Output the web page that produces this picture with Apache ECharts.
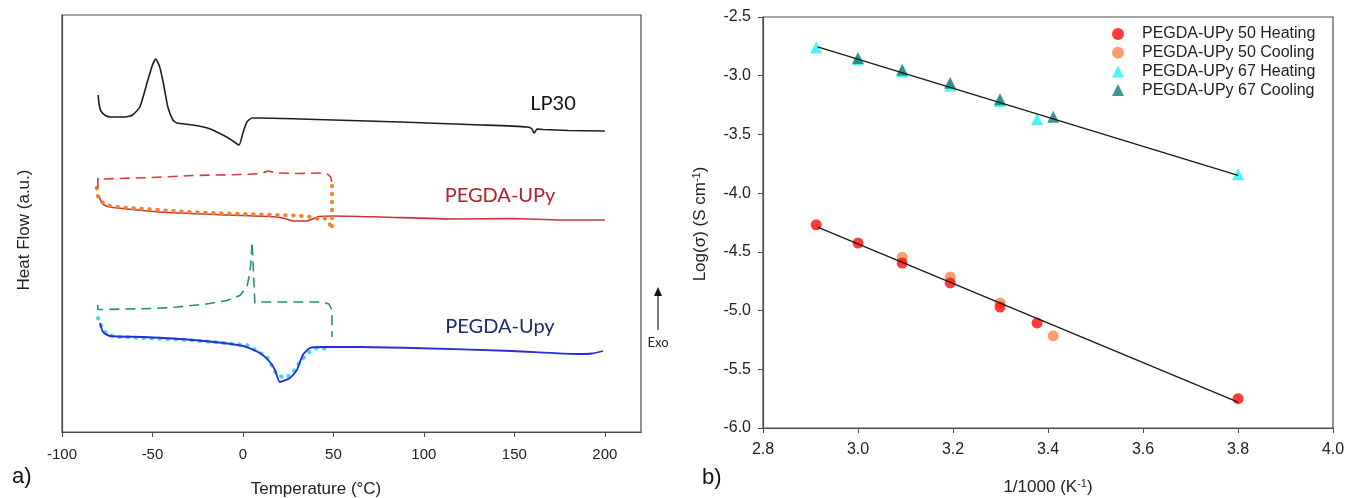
<!DOCTYPE html>
<html>
<head>
<meta charset="utf-8">
<script src="https://cdn.jsdelivr.net/npm/echarts@6/dist/echarts.min.js"></script>
<style>
  html, body { margin: 0; padding: 0; background: #ffffff; }
  #chart { width: 1348px; height: 498px; }
</style>
</head>
<body>
<div id="chart"></div>
<script>
// ---------- a) DSC thermograms: [temperature (°C), heat flow (a.u.)] ----------
const tempTicks = [-100, -50, 0, 50, 100, 150, 200];

const lp30 = [[-80,33.7],[-79.5,32.8],[-78.5,32.1],[-76,31.65],[-73,31.5],[-65,31.5],[-61,31.7],
  [-57,32.5],[-53,34.9],[-50,36.7],[-48.2,37.3],[-46,36.5],[-44,34.9],[-41.5,32.5],[-38.7,31.2],
  [-36.5,30.9],[-27.6,30.7],[-18,30.3],[-9,29.5],[-5.5,29.1],[-2.2,28.7],[0,29.9],[2.2,31.0],
  [5,31.4],[10,31.4],[31.5,31.3],[87,31.0],[132,30.7],[157,30.5],[159.5,30.35],[161,29.9],
  [162.5,30.3],[166,30.25],[180,30.15],[200,30.1]];

const upyCooling = [[-80.2,24.4],[-80.2,25.4],[-78,25.3],[-50,25.45],[-27.6,25.65],[0,25.75],
  [10,25.85],[13.8,26.1],[18.8,25.9],[30,25.85],[44.2,25.9],[47,25.75],[48.5,25.5],[49.2,24.9]];

const upyFirstHeating = [[-80.8,24.4],[-80.2,23.6],[-78,23.0],[-75,22.65],[-70,22.5],[-50,22.25],
  [-30,22.0],[-10,21.85],[10,21.75],[30,21.65],[38,21.5],[42,21.3],[45,21.4],[47.5,20.95],
  [49.2,20.3],[49.2,24.8]];

const upyHeating = [[-79.5,23.6],[-78,22.9],[-75.5,22.6],[-72,22.45],[-46,22.0],[-9,21.7],
  [18.8,21.5],[24,21.3],[28,21.1],[35,21.1],[39,21.35],[42,21.55],[50,21.6],[75.7,21.5],
  [118,21.3],[149,21.35],[175,21.2],[200,21.2]];

const upy67Cooling = [[-80.2,12.7],[-80.2,12.25],[-78,12.25],[-50,12.35],[-36.5,12.5],[-20,12.8],
  [-8.8,13.15],[-1.7,13.65],[2.2,14.5],[3.9,16.0],[4.7,17.7],[5.0,19.0],[5.6,17.0],[6.1,14.8],
  [6.6,12.9],[9.4,13.0],[44.2,13.0],[47.5,12.8],[49.2,12.2],[49.2,9.5]];

const upy67FirstHeating = [[-80.1,11.4],[-77.9,10.4],[-75,9.7],[-68,9.5],[-30,9.2],[2.2,8.7],
  [13.3,7.5],[18.8,5.7],[23.2,5.4],[27,5.8],[31.5,7.0],[35.9,7.9],[40.9,8.4],[48.1,8.3]];

const upy67Heating = [[-79,10.9],[-77.3,10.0],[-73.5,9.6],[-55,9.5],[-27.6,9.2],[0,8.6],[9.4,7.9],
  [14.9,7.0],[17.7,6.2],[20.4,5.0],[26,5.4],[29.8,6.2],[33.1,7.7],[37,8.4],[44.2,8.5],[64.6,8.5],
  [94,8.4],[149,8.1],[186,7.8],[193,7.85],[199,8.1]];

// ---------- b) Arrhenius plot: x = 1/1000 (K^-1), y = log(sigma) ----------
const x50Heat = [2.912, 3.000, 3.093, 3.194, 3.299, 3.377, 3.800];
const y50Heat = [-4.27, -4.425, -4.595, -4.765, -4.97, -5.105, -5.75];
const x50Cool = [3.093, 3.194, 3.299, 3.411];
const y50Cool = [-4.545, -4.715, -4.935, -5.215];
const x67Heat = [2.912, 3.000, 3.093, 3.194, 3.299, 3.377, 3.800];
const y67Heat = [-2.76, -2.865, -2.965, -3.085, -3.215, -3.37, -3.84];
const x67Cool = [3.000, 3.093, 3.194, 3.299, 3.411];
const y67Cool = [-2.85, -2.95, -3.06, -3.20, -3.35];
const fitX = [2.915, 3.800];
const fit50 = [-4.29, -5.78];
const fit67 = [-2.755, -3.848];

const seriesNames = ['PEGDA-UPy 50 Heating', 'PEGDA-UPy 50 Cooling', 'PEGDA-UPy 67 Heating', 'PEGDA-UPy 67 Cooling'];

const zip = (xs, ys) => xs.map((x, i) => [x, ys[i]]);

const ARIAL = '"Liberation Sans", Arial, sans-serif';
const LABEL_FONT = 'Lato, "Open Sans", sans-serif';
const AXIS_COLOR = '#4a4a4a';

function dscLine(name, data, color, opts) {
  return Object.assign({
    name: name, type: 'line', xAxisIndex: 0, yAxisIndex: 0, data: data,
    symbol: 'none', showSymbol: false, silent: true,
    lineStyle: { color: color, width: 1.6 }
  }, opts || {});
}

function dots(color) {
  return { color: color, width: 4, type: [0.5, 7.5], cap: 'round' };
}

const chart = echarts.init(document.getElementById('chart'), null, { renderer: 'canvas' });

chart.setOption({
  animation: false,
  backgroundColor: '#ffffff',
  grid: [
    { left: 62, right: 707, top: 15, bottom: 66, show: true, borderColor: AXIS_COLOR, borderWidth: 1.2 },
    { left: 763, right: 15, top: 17, bottom: 70, show: true, borderColor: AXIS_COLOR, borderWidth: 1.2 }
  ],
  xAxis: [
    {
      gridIndex: 0, type: 'value', min: -100, max: 220, interval: 50,
      axisLine: { onZero: false, lineStyle: { color: AXIS_COLOR, width: 1.2 } },
      axisTick: { show: true, length: 5, customValues: tempTicks, lineStyle: { color: AXIS_COLOR } },
      axisLabel: { customValues: tempTicks, margin: 15, fontSize: 15, color: '#222', fontFamily: ARIAL },
      splitLine: { show: false }
    },
    {
      gridIndex: 1, type: 'value', min: 2.8, max: 4.0, interval: 0.2,
      axisLine: { onZero: false, lineStyle: { color: AXIS_COLOR, width: 1.2 } },
      axisTick: { show: true, length: 5, lineStyle: { color: AXIS_COLOR } },
      axisLabel: { margin: 14, fontSize: 16, color: '#222', fontFamily: ARIAL,
        formatter: v => v.toFixed(1) },
      splitLine: { show: false }
    }
  ],
  yAxis: [
    {
      gridIndex: 0, type: 'value', min: 0, max: 41.7,
      axisLine: { show: true, onZero: false, lineStyle: { color: AXIS_COLOR, width: 1.2 } },
      axisTick: { show: false }, axisLabel: { show: false }, splitLine: { show: false }
    },
    {
      gridIndex: 1, type: 'value', min: -6, max: -2.5, interval: 0.5,
      axisLine: { show: true, onZero: false, lineStyle: { color: AXIS_COLOR, width: 1.2 } },
      axisTick: { show: true, length: 5, lineStyle: { color: AXIS_COLOR } },
      axisLabel: { margin: 12, fontSize: 16, color: '#222', fontFamily: ARIAL,
        formatter: v => v.toFixed(1) },
      splitLine: { show: false }
    }
  ],
  legend: {
    data: seriesNames.map((n, i) => ({ name: n, icon: i < 2 ? 'circle' : 'triangle' })),
    orient: 'vertical', left: 1107, top: 21,
    itemWidth: 12, itemHeight: 12, itemGap: 2.7,
    textStyle: { fontSize: 16, lineHeight: 16, color: '#222', fontFamily: ARIAL, padding: [0, 0, 0, 13] }
  },
  series: [
    dscLine('LP30', lp30, '#1e1e1e', { smooth: 0.2 }),
    dscLine('PEGDA-UPy heating', upyHeating, '#c8343a', { smooth: 0.2 }),
    dscLine('PEGDA-UPy first heating', upyFirstHeating, '#f0842a', { lineStyle: dots('#f0842a') }),
    dscLine('PEGDA-UPy cooling', upyCooling, '#e2353c', { lineStyle: { color: '#e2353c', width: 1.6, type: [10, 6] } }),
    dscLine('PEGDA-Upy first heating', upy67FirstHeating, '#3cdcf0', { lineStyle: dots('#3cdcf0') }),
    dscLine('PEGDA-Upy heating', upy67Heating, '#2b2bd4', { smooth: 0.2, lineStyle: { color: '#2b2bd4', width: 1.8 } }),
    dscLine('PEGDA-Upy cooling', upy67Cooling, '#2b8a84', { lineStyle: { color: '#2b8a84', width: 1.6, type: [10, 6] } }),

    { name: seriesNames[0], type: 'scatter', xAxisIndex: 1, yAxisIndex: 1, data: zip(x50Heat, y50Heat),
      symbol: 'circle', symbolSize: 11, z: 4, itemStyle: { color: '#ff0a0a' } },
    { name: seriesNames[1], type: 'scatter', xAxisIndex: 1, yAxisIndex: 1, data: zip(x50Cool, y50Cool),
      symbol: 'circle', symbolSize: 11, z: 3, itemStyle: { color: '#f5874c' } },
    { name: seriesNames[2], type: 'scatter', xAxisIndex: 1, yAxisIndex: 1, data: zip(x67Heat, y67Heat),
      symbol: 'triangle', symbolSize: 12, z: 3, itemStyle: { color: '#1ef2f2' } },
    { name: seriesNames[3], type: 'scatter', xAxisIndex: 1, yAxisIndex: 1, data: zip(x67Cool, y67Cool),
      symbol: 'triangle', symbolSize: 12, z: 4, itemStyle: { color: '#137a76' } },
    { name: 'fit 50', type: 'line', xAxisIndex: 1, yAxisIndex: 1, data: zip(fitX, fit50), z: 5,
      symbol: 'none', silent: true, lineStyle: { color: '#1a1a1a', width: 1.3 } },
    { name: 'fit 67', type: 'line', xAxisIndex: 1, yAxisIndex: 1, data: zip(fitX, fit67), z: 5,
      symbol: 'none', silent: true, lineStyle: { color: '#1a1a1a', width: 1.3 } }
  ],
  graphic: [
    // panel letters
    { type: 'text', left: 12, top: 466, style: { text: 'a)', font: '22px ' + ARIAL, fill: '#111' } },
    { type: 'text', left: 702, top: 467, style: { text: 'b)', font: '22px ' + ARIAL, fill: '#111' } },
    // axis titles
    { type: 'text', x: 316, y: 489, style: { text: 'Temperature (°C)', font: '17px ' + ARIAL, fill: '#222', align: 'center', verticalAlign: 'middle' } },
    { type: 'text', x: 24, y: 230, rotation: Math.PI / 2,
      style: { text: 'Heat Flow (a.u.)', font: '17px ' + ARIAL, fill: '#222', align: 'center', verticalAlign: 'middle' } },
    { type: 'text', x: 1048, y: 487,
      style: { text: '{a|1/1000 (K}{s|-1}{a|)}', align: 'center', verticalAlign: 'middle',
        rich: { a: { fontSize: 17, fontFamily: ARIAL, fill: '#222', lineHeight: 18 },
                s: { fontSize: 11, fontFamily: ARIAL, fill: '#222', verticalAlign: 'top', lineHeight: 18 } } } },
    { type: 'text', x: 700, y: 224, rotation: Math.PI / 2,
      style: { text: '{a|Log(σ) (S cm}{s|-1}{a|)}', align: 'center', verticalAlign: 'middle',
        rich: { a: { fontSize: 17, fontFamily: ARIAL, fill: '#222', lineHeight: 18 },
                s: { fontSize: 11, fontFamily: ARIAL, fill: '#222', verticalAlign: 'top', lineHeight: 18 } } } },
    // curve labels
    { type: 'text', x: 553, y: 104, style: { text: 'LP30', font: '20px ' + LABEL_FONT, fill: '#111', align: 'center', verticalAlign: 'middle' } },
    { type: 'text', x: 500, y: 196, style: { text: 'PEGDA-UPy', font: '20px ' + LABEL_FONT, fill: '#b3222a', align: 'center', verticalAlign: 'middle' } },
    { type: 'text', x: 500, y: 327, style: { text: 'PEGDA-Upy', font: '20px ' + LABEL_FONT, fill: '#1d2b6a', align: 'center', verticalAlign: 'middle' } },
    // exotherm direction
    { type: 'line', shape: { x1: 658, y1: 330, x2: 658, y2: 294 }, style: { stroke: '#222', lineWidth: 1.2 } },
    { type: 'polygon', shape: { points: [[654, 296], [662, 296], [658, 287]] }, style: { fill: '#111' } },
    { type: 'text', x: 658, y: 343, style: { text: 'Exo', font: '13px ' + LABEL_FONT, fill: '#222', align: 'center', verticalAlign: 'middle' } }
  ]
});
</script>
</body>
</html>
